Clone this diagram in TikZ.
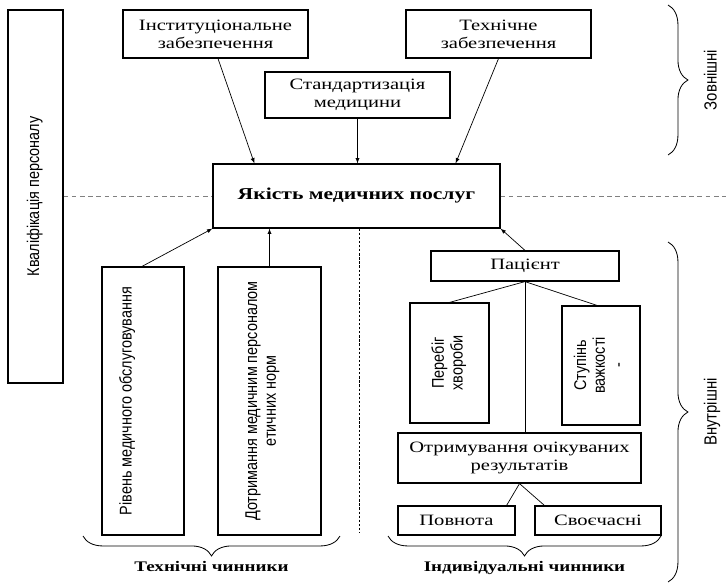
\documentclass[tikz,border=0pt]{standalone}
\usepackage{fontspec}
\setmainfont[FakeStretch=1.3]{Liberation Serif}
\newfontfamily\narrowfont[FakeStretch=0.85]{Liberation Sans}
\usetikzlibrary{calc,decorations.pathreplacing}

\newcommand{\pxu}{0.03cm}
\newcommand{\vtxt}[1]{\rotatebox{90}{\narrowfont\fontsize{14.5}{16}\selectfont\begin{tabular}{@{}c@{}}#1\end{tabular}}}

\tikzset{
	box/.style={draw, line width=1pt, align=center, inner sep=0pt, font=\fontsize{13.5}{15.5}\selectfont},
	link/.style={line width=0.6pt},
	arrow/.style={link, -latex},
	brace/.style={decorate, decoration={brace, amplitude=17pt}, line width=0.7pt},
	label/.style={font=\bfseries\fontsize{12.5}{14}\selectfont},
	vlabel/.style={rotate=90, font=\narrowfont\fontsize{15}{16}\selectfont},
}

\begin{document}
\begin{tikzpicture}[x=\pxu, y=-\pxu]
	\useasboundingbox (0,0) rectangle (726,584);

	% Kvalifikatsiia
	\node[box, minimum width=55*\pxu, minimum height=373*\pxu] (staff) at (35.5,196.5) {\vtxt{Кваліфікація персоналу}};

	% zovnishni chynnyky
	\node[box, minimum width=185*\pxu, minimum height=48*\pxu] (inst) at (215.5,34) {Інституціональне\\забезпечення};
	\node[box, minimum width=185*\pxu, minimum height=46*\pxu] (stand) at (357.5,95) {Стандартизація\\медицини};
	\node[box, minimum width=185*\pxu, minimum height=48*\pxu] (tech) at (498.5,34) {Технічне\\забезпечення};

	% yakist
	\node[box, minimum width=287*\pxu, minimum height=64*\pxu, font=\bfseries\fontsize{14.2}{16}\selectfont] (quality) at (356.5,196) {Якість медичних послуг};

	\draw[arrow] ($(inst.south)+(2.5,0)$) -- ($(quality.north west)+(42,0)$);
	\draw[arrow] (stand.south) -- (stand.south |- quality.north);
	\draw[arrow] (tech.south) -- ($(quality.north east)+(-45,0)$);

	% rozdilovi linii
	\coordinate (edge) at (726,196);
	\draw[gray, line width=0.8pt, dash pattern=on 4pt off 3pt] (staff.east |- quality.west) -- (quality.west);
	\draw[gray, line width=0.8pt, dash pattern=on 4pt off 3pt] (quality.east) -- (edge);
	\coordinate (split) at (359,533);
	\draw[link, dash pattern=on 2pt off 1.5pt] (split |- quality.south) -- (split);

	% tekhnichni chynnyky
	\node[box, minimum width=82*\pxu, minimum height=268*\pxu] (level) at (143,401) {\vtxt{Рівень медичного обслуговування}\hspace*{0.9cm}};
	\node[box, minimum width=103*\pxu, minimum height=268*\pxu] (ethics) at (269.5,401) {\vtxt{Дотримання медичним персоналом\\етичних норм}\hspace*{0.4cm}};

	\draw[arrow] ($(level.north)+(-1,0)$) -- (quality.south west);
	\draw[arrow] (ethics.north) -- (ethics.north |- quality.south);

	% indyvidualni chynnyky
	\node[box, minimum width=188*\pxu, minimum height=30*\pxu] (patient) at (525,266) {Пацієнт};
	\node[box, minimum width=79*\pxu, minimum height=120*\pxu] (course) at (449.5,363) {\vtxt{Перебіг\\хвороби}};
	\node[box, minimum width=78*\pxu, minimum height=119*\pxu] (severity) at (601,365.5) {\vtxt{Ступінь\\важкості\\-}};
	\node[box, minimum width=243*\pxu, minimum height=50*\pxu] (results) at (519.5,458) {Отримування очікуваних\\результатів};
	\node[box, minimum width=117*\pxu, minimum height=29*\pxu] (complete) at (456.5,520.5) {Повнота};
	\node[box, minimum width=126*\pxu, minimum height=29*\pxu] (timely) at (598,520.5) {Своєчасні};

	\draw[arrow] (patient.north) -- (quality.south east);
	\draw[link] (patient.south) -- (course.north);
	\draw[link] (patient.south) -- ($(severity.north)+(-4,0)$);
	\draw[link] (patient.south) -- (patient.south |- results.north);
	\draw[link] (results.south) -- ($(complete.north east)+(-9,0)$);
	\draw[link] (results.south) -- ($(timely.north west)+(10,0)$);

	% duzhky
	\draw[brace] (340,536) -- (83,536) node[midway, below=18pt, label] (techlbl) {Технічні чинники};
	\draw[brace] (661,536) -- (388,536) node[midway, below=18pt, label] (indlbl) {Індивідуальні чинники};
	\draw[brace] (668,5) -- (668,155) node[midway, right=27pt, vlabel, anchor=north] (extlbl) {Зовнішні};
	\draw[brace] (668,242) -- (668,582) node[midway, right=27pt, vlabel, anchor=north] (intlbl) {Внутрішні};
\end{tikzpicture}
\end{document}
